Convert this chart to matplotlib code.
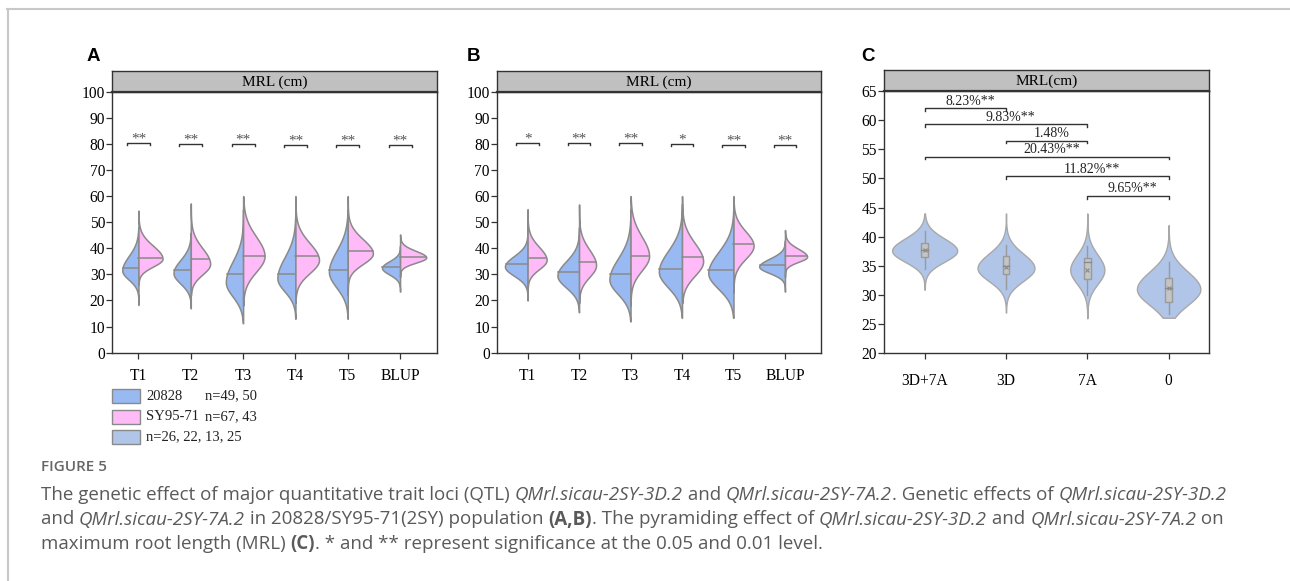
import numpy as np
import matplotlib
matplotlib.use('Agg')
import matplotlib.pyplot as plt
from matplotlib.patches import Rectangle
from matplotlib.lines import Line2D

plt.rcParams['font.family'] = 'Liberation Serif'

W, H = 1290, 581

# ---- data ----
traits = ['T1', 'T2', 'T3', 'T4', 'T5', 'BLUP']
# half violins: (min, max, mode, spread below mode, spread above mode, max half width, median)
a_20828 = [(18.3, 48, 31.5, 3.5, 5.5, 0.31, 32.6),
           (17.0, 46, 30.5, 4.0, 5.0, 0.33, 31.5),
           (11.3, 55, 27.0, 5.5, 8.0, 0.33, 30.0),
           (13.0, 56, 28.5, 5.0, 8.0, 0.345, 30.0),
           (13.0, 55, 31.0, 6.0, 8.0, 0.36, 31.8),
           (23.4, 41, 32.5, 2.5, 2.5, 0.345, 33.0)]
a_sy9571 = [(26.0, 54.4, 36.0, 3.0, 5.0, 0.46, 36.3),
            (22.0, 57.2, 34.0, 4.0, 6.0, 0.37, 35.8),
            (18.0, 60.0, 37.0, 6.0, 7.5, 0.41, 37.0),
            (19.0, 60.0, 35.5, 5.0, 6.5, 0.45, 37.0),
            (22.0, 60.0, 38.0, 4.0, 5.5, 0.48, 38.9),
            (29.0, 45.3, 36.5, 2.0, 2.5, 0.50, 36.6)]
b_20828 = [(20.0, 50, 33.0, 3.5, 4.0, 0.44, 33.9),
           (15.5, 48, 29.5, 4.5, 5.5, 0.42, 30.8),
           (12.0, 55, 28.0, 5.5, 8.0, 0.41, 30.0),
           (13.4, 57, 31.0, 6.0, 8.0, 0.45, 31.9),
           (13.4, 57, 30.5, 6.0, 8.0, 0.49, 31.5),
           (23.4, 43, 33.0, 2.5, 3.0, 0.50, 33.5)]
b_sy9571 = [(24.0, 55.0, 35.5, 3.5, 5.0, 0.37, 36.1),
            (19.0, 56.8, 33.5, 4.5, 6.0, 0.33, 34.6),
            (18.0, 60.0, 37.0, 5.5, 7.5, 0.36, 37.0),
            (19.0, 60.0, 35.0, 5.5, 7.0, 0.41, 36.6),
            (23.0, 60.0, 41.0, 5.0, 5.5, 0.39, 41.5),
            (29.0, 47.0, 36.8, 2.0, 3.0, 0.43, 37.0)]
a_stars = ['**', '**', '**', '**', '**', '**']
a_bracket_y = [80.2, 80.0, 80.0, 79.6, 79.5, 79.5]
b_stars = ['*', '**', '**', '*', '**', '**']
b_bracket_y = [80.3, 80.3, 80.2, 79.9, 79.7, 79.7]

groups_c = ['3D+7A', '3D', '7A', '0']
# full violins: (min, max, mode, spread below, spread above, max half width)
c_violin = [(30.9, 44.0, 37.6, 1.9, 2.1, 0.40),
            (27.0, 44.0, 34.6, 2.2, 2.5, 0.35),
            (26.0, 44.0, 34.3, 2.4, 2.6, 0.21),
            (26.1, 42.0, 31.0, 2.7, 3.0, 0.39)]
c_q1 = [36.5, 33.55, 32.8, 28.75]
c_q3 = [39.0, 36.7, 36.3, 33.0]
c_median = [37.7, 34.9, 35.6, 31.15]
c_mean = [37.7, 34.8, 34.3, 31.15]
c_whisk_lo = [34.4, 31.0, 30.0, 26.7]
c_whisk_hi = [40.9, 38.6, 38.4, 35.7]
c_pairs = [(0, 1), (0, 2), (1, 2), (0, 3), (1, 3), (2, 3)]
c_pair_y = [62.0, 59.3, 56.5, 53.7, 50.4, 47.0]
c_pair_labels = ['8.23%**', '9.83%**', '1.48%', '20.43%**', '11.82%**', '9.65%**']

legend_names = ['20828', 'SY95-71', 'n=26, 22, 13, 25']
legend_counts = ['n=49, 50', 'n=67, 43', '']

BLUE = '#98b9f2'
PINK = '#ffbaf8'
CBLUE = '#b0c5e8'
EDGE = '#8a8a8a'

fig = plt.figure(figsize=(W / 100, H / 100), dpi=100)


def px_axes(left, top, right, bottom):
    return fig.add_axes([left / W, 1 - bottom / H, (right - left) / W, (bottom - top) / H])


def strip(left, top, right, bottom, title):
    s = px_axes(left, top, right, bottom)
    s.set_facecolor('#c0c0c0')
    s.set_xticks([])
    s.set_yticks([])
    for sp in s.spines.values():
        sp.set_color('#333333')
        sp.set_linewidth(1.0)
    s.spines['bottom'].set_linewidth(1.6)
    s.text(0.5, 0.45, title, ha='center', va='center', fontsize=11, transform=s.transAxes)


def style_axes(ax, xpad):
    for sp in ax.spines.values():
        sp.set_color('#333333')
        sp.set_linewidth(1.0)
    ax.tick_params(axis='y', length=4, width=0.9, pad=1, labelsize=11.2, color='#333333')
    ax.tick_params(axis='x', length=4, width=0.9, pad=xpad, labelsize=11.2, color='#333333')


def half_violin(ax, x, st, side, color):
    lo, hi, mode, s_lo, s_hi, w, med = st
    y = np.linspace(lo, hi, 400)
    s = np.where(y < mode, s_lo, s_hi)
    d = w * np.exp(-0.5 * ((y - mode) / s) ** 2)
    sign = -1 if side == 'left' else 1
    ax.fill_betweenx(y, x + sign * d, x, facecolor=color, edgecolor=EDGE, lw=1.1, zorder=2)
    dm = np.interp(med, y, d)
    ax.plot([x, x + sign * dm], [med, med], color=EDGE, lw=1.1, zorder=3)


def split_panel(ax, left_data, right_data, stars, bracket_y):
    for i in range(len(traits)):
        half_violin(ax, i, left_data[i], 'left', BLUE)
        half_violin(ax, i, right_data[i], 'right', PINK)
        yb = bracket_y[i]
        ax.plot([i - 0.22, i - 0.22, i + 0.22, i + 0.22], [yb - 0.7, yb, yb, yb - 0.7],
                color='#333333', lw=1.0)
        ax.text(i, yb + 0.2, stars[i], ha='center', va='baseline', fontsize=11, color='#555555')
    ax.set_ylim(0, 100)
    ax.set_yticks(np.arange(0, 101, 10))
    ax.set_xticks(range(len(traits)))
    ax.set_xticklabels(traits)


# ---- panel A ----
axA = px_axes(112.3, 91.7, 436.7, 352.7)
split_panel(axA, a_20828, a_sy9571, a_stars, a_bracket_y)
axA.set_xlim(-0.5, 5.7)
style_axes(axA, 7)
strip(112.3, 71, 436.7, 91.7, 'MRL (cm)')

# ---- panel B ----
axB = px_axes(496.7, 91.7, 821, 352.7)
split_panel(axB, b_20828, b_sy9571, b_stars, b_bracket_y)
axB.set_xlim(-0.6, 5.7)
style_axes(axB, 7)
strip(496.7, 71, 821, 91.7, 'MRL (cm)')

# ---- panel C ----
axC = px_axes(884, 91, 1209.3, 353.3)
for i in range(len(groups_c)):
    lo, hi, mode, s_lo, s_hi, w = c_violin[i]
    y = np.linspace(lo, hi, 400)
    s = np.where(y < mode, s_lo, s_hi)
    d = w * np.exp(-0.5 * ((y - mode) / s) ** 2)
    axC.fill_betweenx(y, i - d, i + d, facecolor=CBLUE, edgecolor='#a8a8a8', lw=1.0, zorder=2)
    axC.plot([i, i], [c_whisk_lo[i], c_q1[i]], color='#9a9a9a', lw=1.0, zorder=3)
    axC.plot([i, i], [c_q3[i], c_whisk_hi[i]], color='#9a9a9a', lw=1.0, zorder=3)
    axC.add_patch(Rectangle((i - 0.04, c_q1[i]), 0.08, c_q3[i] - c_q1[i],
                            facecolor='#c4c4c4', edgecolor='#9a9a9a', lw=1.0, zorder=4))
    axC.plot([i - 0.04, i + 0.04], [c_median[i], c_median[i]], color='#8a8a8a', lw=1.0, zorder=5)
    axC.plot(i, c_mean[i], marker='x', ms=3, color='#8a8a8a', mew=0.8, zorder=6)
for (a, b), yb, lab in zip(c_pairs, c_pair_y, c_pair_labels):
    axC.plot([a, a, b, b], [yb - 0.45, yb, yb, yb - 0.45], color='#333333', lw=1.0)
    axC.text((a + b) / 2 + 0.06, yb + 0.6, lab, ha='center', va='baseline', fontsize=10,
             color='#222222')
axC.set_xlim(-0.5, 3.5)
axC.set_ylim(20, 65)
axC.set_yticks(np.arange(20, 66, 5))
axC.set_xticks(range(len(groups_c)))
axC.set_xticklabels(groups_c)
style_axes(axC, 10)
strip(884, 70, 1209.3, 91, 'MRL(cm)')

# ---- panel letters ----
for lab, x in zip(['A', 'B', 'C'], [87, 467, 861]):
    fig.text(x / W, 1 - 61 / H, lab, fontsize=13.5, fontweight='bold',
             family='Liberation Sans', va='baseline')

# ---- legend below panel A ----
legend_colors = [BLUE, PINK, CBLUE]
for k, (name, cnt, col) in enumerate(zip(legend_names, legend_counts, legend_colors)):
    top = 389 + k * 20.5
    fig.add_artist(Rectangle((112 / W, 1 - (top + 14) / H), 28 / W, 14 / H, transform=fig.transFigure,
                             facecolor=col, edgecolor='#8a8a8a', lw=1.0))
    fig.text(146 / W, 1 - (top + 7) / H, name, fontsize=10.5, va='center', color='#222222')
    if cnt:
        fig.text(205 / W, 1 - (top + 7) / H, cnt, fontsize=10.5, va='center', color='#222222')

# ---- page frame ----
fig.add_artist(Line2D([7 / W, 1], [1 - 9 / H, 1 - 9 / H], transform=fig.transFigure,
                      color='#c8c8c8', lw=1.5))
fig.add_artist(Line2D([7.5 / W, 7.5 / W], [1 - 9 / H, 0], transform=fig.transFigure,
                      color='#c8c8c8', lw=1.5))

# ---- caption ----
CAP_FONT = 'Open Sans'
CAP_SIZE = 13.5
CAP_COLOR = '#5a5a5a'
fig.text(41 / W, 1 - 471 / H, 'FIGURE 5', family=CAP_FONT, fontsize=11, fontweight='semibold',
         color='#666666', va='baseline')

caption_lines = [
    [("The genetic effect of major quantitative trait loci (QTL) ", 'n'), ("QMrl.sicau-2SY-3D.2", 'i'),
     (" and ", 'n'), ("QMrl.sicau-2SY-7A.2", 'i'), (". Genetic effects of ", 'n'),
     ("QMrl.sicau-2SY-3D.2", 'i')],
    [("and ", 'n'), ("QMrl.sicau-2SY-7A.2", 'i'), (" in 20828/SY95-71(2SY) population ", 'n'),
     ("(A,B)", 'b'), (". The pyramiding effect of ", 'n'), ("QMrl.sicau-2SY-3D.2", 'i'),
     (" and ", 'n'), ("QMrl.sicau-2SY-7A.2", 'i'), (" on", 'n')],
    [("maximum root length (MRL) ", 'n'), ("(C)", 'b'),
     (". * and ** represent significance at the 0.05 and 0.01 level.", 'n')],
]
caption_base = [500, 524.5, 549]

renderer = fig.canvas.get_renderer()


def seg_kw(style):
    kw = dict(family=CAP_FONT, fontsize=CAP_SIZE, color=CAP_COLOR, va='baseline')
    if style == 'i':
        kw['style'] = 'italic'
    if style == 'b':
        kw['fontweight'] = 'bold'
    return kw


def text_width(s, kw):
    t1 = fig.text(0, 0, '|' + s + '|', **kw)
    t2 = fig.text(0, 0, '||', **kw)
    w = t1.get_window_extent(renderer).width - t2.get_window_extent(renderer).width
    t1.remove()
    t2.remove()
    return w


for line, yb in zip(caption_lines, caption_base):
    x = 41.0
    for s, st in line:
        kw = seg_kw(st)
        fig.text(x / W, 1 - yb / H, s, **kw)
        x += text_width(s, kw)

fig.savefig('out.png', dpi=100)
